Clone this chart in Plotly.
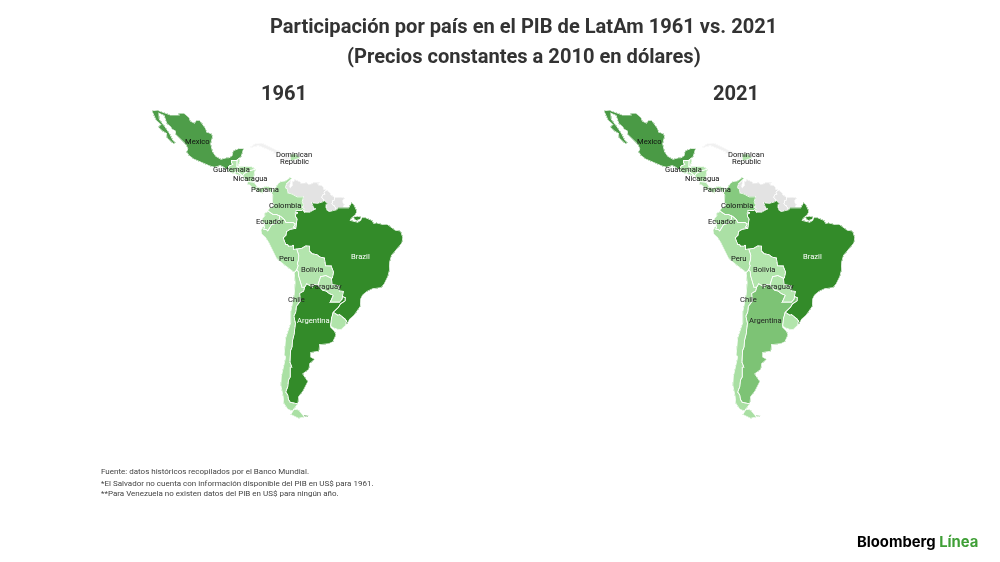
import plotly.graph_objects as go

MEXICO = [[(-117.1,32.5),(-114.7,32.7),(-114.8,32.5),(-111.0,31.3),(-108.2,31.3),(-108.2,31.8),(-106.5,31.8),(-104.9,30.6),(-104.5,29.6),(-103.1,29.0),(-102.5,29.8),(-101.4,29.8),(-100.3,28.3),(-99.5,27.5),(-99.1,26.4),(-97.5,25.9),(-97.2,25.0),(-97.8,22.9),(-97.2,20.6),(-96.1,19.1),(-95.0,18.6),(-94.4,18.15),(-92.7,18.6),(-91.8,18.6),(-90.8,19.3),(-90.4,20.8),(-88.5,21.5),(-87.0,21.5),(-87.5,20.2),(-87.8,19.0),(-88.3,18.5),(-89.15,17.95),(-89.15,17.8),(-91.0,17.8),(-91.0,17.25),(-90.6,16.5),(-91.7,16.07),(-92.2,15.25),(-92.2,14.55),(-93.4,15.6),(-94.7,16.2),(-96.5,15.65),(-98.2,16.1),(-99.7,16.7),(-101.6,17.6),(-103.5,18.3),(-104.9,19.3),(-105.7,20.4),(-105.3,21.4),(-106.0,22.8),(-107.9,24.6),(-109.2,25.6),(-109.4,26.7),(-110.5,27.3),(-110.9,27.9),(-112.2,28.9),(-113.1,31.2),(-114.8,31.8),(-114.7,30.2),(-112.8,28.0),(-111.3,26.0),(-110.3,24.2),(-109.4,23.2),(-110.0,22.9),(-112.1,24.6),(-112.3,26.0),(-113.6,26.7),(-115.0,27.8),(-114.2,28.6),(-115.7,29.8),(-116.7,31.6)]]
BELIZE = [[(-89.15,17.95),(-88.3,18.5),(-88.2,17.5),(-88.9,15.9),(-89.2,15.9)]]
GUATEMALA = [[(-92.2,14.55),(-92.2,15.25),(-91.7,16.07),(-90.6,16.5),(-91.0,17.25),(-91.0,17.8),(-89.15,17.8),(-89.2,15.9),(-88.6,15.7),(-89.2,15.1),(-89.35,14.4),(-90.1,13.75),(-91.2,13.9)]]
HONDURAS = [[(-88.6,15.7),(-87.5,15.8),(-86.0,15.95),(-84.4,15.85),(-83.15,15.0),(-84.7,14.7),(-85.1,14.55),(-86.0,14.0),(-86.7,13.75),(-87.3,12.98),(-87.8,13.4),(-88.5,13.85),(-89.35,14.4),(-89.2,15.1)]]
EL_SALVADOR = [[(-90.1,13.75),(-89.35,14.4),(-88.5,13.85),(-87.8,13.4),(-87.9,13.15),(-88.8,13.2)]]
NICARAGUA = [[(-87.3,12.98),(-86.7,13.75),(-86.0,14.0),(-85.1,14.55),(-84.7,14.7),(-83.15,15.0),(-83.5,13.6),(-83.8,11.0),(-83.65,10.93),(-84.9,11.0),(-85.7,11.08),(-86.5,11.8)]]
COSTA_RICA = [[(-85.7,11.08),(-84.9,11.0),(-83.65,10.93),(-82.55,9.55),(-82.9,8.05),(-83.7,8.6),(-85.0,10.0),(-85.8,10.1)]]
PANAMA = [[(-82.9,8.05),(-82.55,9.55),(-81.4,8.85),(-79.6,9.6),(-78.0,9.2),(-77.35,8.67),(-77.9,7.2),(-78.4,8.0),(-79.6,8.9),(-80.4,8.25),(-80.9,7.2),(-81.7,7.9)]]
COLOMBIA = [[(-77.35,8.67),(-76.9,8.6),(-75.6,10.5),(-74.9,11.05),(-73.3,11.3),(-71.75,12.45),(-71.15,12.1),(-71.35,11.85),(-72.2,11.1),(-72.9,10.45),(-73.3,9.15),(-72.65,8.6),(-72.45,7.4),(-71.0,7.0),(-69.4,6.1),(-67.35,6.1),(-67.8,4.5),(-67.3,3.3),(-67.8,2.8),(-67.2,2.2),(-66.87,1.25),(-67.06,1.13),(-67.26,1.72),(-67.54,2.04),(-67.87,1.69),(-69.82,1.71),(-69.85,1.1),(-69.2,0.95),(-69.6,0.6),(-70.05,0.55),(-70.0,-0.2),(-69.45,-1.15),(-69.9,-4.2),(-70.65,-3.8),(-70.05,-2.75),(-70.8,-2.25),(-72.0,-2.4),(-73.1,-2.3),(-73.65,-1.25),(-74.85,-0.25),(-75.3,-0.1),(-76.3,0.4),(-77.4,0.4),(-78.85,1.4),(-79.0,1.7),(-78.4,2.6),(-77.5,2.6),(-77.1,3.9),(-77.5,4.1),(-77.4,6.7),(-77.9,7.2)]]
VENEZUELA = [[(-71.35,11.85),(-71.95,11.42),(-71.6,10.97),(-71.6,10.2),(-72.1,9.85),(-71.7,9.07),(-71.0,9.86),(-71.05,10.95),(-70.15,11.4),(-70.3,12.0),(-69.6,11.46),(-68.3,10.9),(-68.2,10.55),(-66.2,10.65),(-65.65,10.2),(-64.3,10.4),(-64.3,10.65),(-61.9,10.7),(-62.7,10.4),(-62.4,9.95),(-61.6,9.87),(-60.85,9.4),(-60.7,8.6),(-59.8,8.37),(-60.55,7.8),(-60.64,7.4),(-60.3,7.05),(-61.1,6.7),(-61.4,5.96),(-60.73,5.2),(-60.6,4.92),(-61.0,4.5),(-62.8,4.0),(-64.6,4.15),(-64.0,2.5),(-63.4,2.2),(-64.4,1.5),(-65.35,1.1),(-66.87,1.25),(-67.2,2.2),(-67.8,2.8),(-67.3,3.3),(-67.8,4.5),(-67.35,6.1),(-69.4,6.1),(-71.0,7.0),(-72.45,7.4),(-72.65,8.6),(-73.3,9.15),(-72.9,10.45),(-72.2,11.1)]]
GUYANA = [[(-59.8,8.37),(-58.5,7.35),(-58.45,6.85),(-57.15,5.97),(-57.3,5.07),(-57.9,4.8),(-57.85,4.2),(-58.05,4.0),(-57.6,3.33),(-57.3,3.3),(-56.5,1.9),(-56.75,1.86),(-58.9,1.3),(-59.65,1.85),(-59.8,2.3),(-60.0,2.75),(-59.95,3.6),(-59.55,3.96),(-60.1,4.57),(-60.73,5.2),(-61.4,5.96),(-61.1,6.7),(-60.3,7.05),(-60.64,7.4),(-60.55,7.8)]]
SURINAME = [[(-57.15,5.97),(-55.9,5.9),(-55.0,6.0),(-53.95,5.75),(-54.5,4.9),(-54.4,4.2),(-54.0,3.6),(-54.4,2.45),(-55.1,2.5),(-56.0,2.5),(-56.5,1.9),(-57.3,3.3),(-57.6,3.33),(-58.05,4.0),(-57.85,4.2),(-57.9,4.8),(-57.3,5.07)]]
BRAZIL = [[(-60.73,5.2),(-60.1,4.57),(-59.55,3.96),(-59.95,3.6),(-60.0,2.75),(-59.8,2.3),(-59.65,1.85),(-58.9,1.3),(-56.75,1.86),(-56.5,1.9),(-56.0,2.5),(-55.1,2.5),(-54.4,2.45),(-52.55,2.5),(-51.65,4.15),(-51.0,3.9),(-50.0,1.8),(-50.0,0.9),(-50.5,0.1),(-51.7,-0.9),(-52.0,-1.6),(-50.9,-1.75),(-49.6,-2.2),(-48.6,-1.6),(-48.2,-0.7),(-47.0,-0.7),(-44.9,-1.6),(-44.3,-2.6),(-43.4,-2.4),(-41.5,-2.9),(-39.9,-2.85),(-38.5,-3.7),(-37.2,-4.8),(-35.5,-5.1),(-34.8,-7.2),(-35.1,-9.0),(-37.0,-11.1),(-38.5,-13.0),(-39.1,-15.0),(-39.2,-17.7),(-39.7,-19.6),(-40.9,-21.9),(-41.9,-23.0),(-44.6,-23.3),(-46.5,-24.1),(-48.0,-25.3),(-48.6,-26.4),(-48.7,-28.5),(-50.7,-31.0),(-52.2,-32.2),(-53.37,-33.77),(-53.5,-33.15),(-53.2,-32.7),(-53.8,-32.05),(-54.6,-31.45),(-55.6,-30.85),(-56.0,-31.08),(-57.6,-30.2),(-56.0,-28.9),(-55.2,-27.8),(-53.7,-26.9),(-53.65,-26.0),(-54.6,-25.6),(-54.3,-24.1),(-55.4,-24.0),(-55.75,-22.4),(-56.7,-22.2),(-58.0,-22.1),(-58.15,-20.15),(-57.85,-19.95),(-57.5,-18.2),(-58.3,-16.3),(-60.15,-16.25),(-60.5,-13.8),(-61.85,-13.5),(-63.0,-12.7),(-64.5,-12.4),(-65.3,-11.6),(-65.4,-10.0),(-66.6,-9.9),(-68.0,-10.7),(-69.55,-10.95),(-70.6,-11.0),(-70.6,-9.5),(-71.2,-10.0),(-72.2,-10.0),(-72.55,-9.5),(-73.2,-9.4),(-74.0,-7.3),(-73.1,-6.4),(-72.9,-5.2),(-71.75,-4.5),(-70.9,-4.4),(-69.9,-4.2),(-69.45,-1.15),(-70.0,-0.2),(-70.05,0.55),(-69.6,0.6),(-69.2,0.95),(-69.85,1.1),(-69.82,1.71),(-67.87,1.69),(-67.54,2.04),(-67.26,1.72),(-67.06,1.13),(-66.87,1.25),(-65.35,1.1),(-64.4,1.5),(-63.4,2.2),(-64.0,2.5),(-64.6,4.15),(-62.8,4.0),(-61.0,4.5),(-60.6,4.92)],
          [(-50.9,-0.4),(-49.6,-0.2),(-48.5,-0.5),(-48.7,-1.2),(-50.0,-1.6),(-50.7,-1.2)]]
ECUADOR = [[(-80.3,-3.4),(-80.15,-3.85),(-80.4,-4.45),(-79.5,-4.6),(-79.05,-5.0),(-78.65,-4.55),(-78.4,-3.8),(-77.85,-3.0),(-76.6,-2.6),(-75.55,-1.55),(-75.2,-0.95),(-75.3,-0.1),(-76.3,0.4),(-77.4,0.4),(-78.85,1.4),(-80.1,0.8),(-80.0,0.0),(-80.9,-1.0),(-80.9,-2.2),(-79.9,-2.5)]]
PERU = [[(-80.3,-3.4),(-81.3,-4.7),(-81.1,-6.0),(-79.8,-7.2),(-78.7,-8.9),(-77.2,-12.0),(-76.2,-13.9),(-74.0,-15.7),(-72.0,-17.0),(-70.4,-18.35),(-69.6,-17.6),(-69.1,-16.2),(-69.4,-15.6),(-69.15,-15.1),(-68.95,-14.2),(-68.9,-12.9),(-69.55,-10.95),(-70.6,-11.0),(-70.6,-9.5),(-71.2,-10.0),(-72.2,-10.0),(-72.55,-9.5),(-73.2,-9.4),(-74.0,-7.3),(-73.1,-6.4),(-72.9,-5.2),(-71.75,-4.5),(-70.9,-4.4),(-69.9,-4.2),(-70.65,-3.8),(-70.05,-2.75),(-70.8,-2.25),(-72.0,-2.4),(-73.1,-2.3),(-73.65,-1.25),(-74.85,-0.25),(-75.3,-0.1),(-75.2,-0.95),(-75.55,-1.55),(-76.6,-2.6),(-77.85,-3.0),(-78.4,-3.8),(-78.65,-4.55),(-79.05,-5.0),(-79.5,-4.6),(-80.4,-4.45),(-80.15,-3.85)]]
BOLIVIA = [[(-69.55,-10.95),(-68.9,-12.9),(-68.95,-14.2),(-69.15,-15.1),(-69.4,-15.6),(-69.1,-16.2),(-69.6,-17.6),(-69.1,-18.0),(-68.95,-19.4),(-68.2,-21.5),(-67.85,-22.85),(-67.0,-22.9),(-66.3,-21.85),(-64.4,-22.8),(-63.95,-22.0),(-62.65,-22.25),(-62.3,-21.05),(-61.75,-19.65),(-60.0,-19.3),(-58.15,-20.15),(-57.85,-19.95),(-57.5,-18.2),(-58.3,-16.3),(-60.15,-16.25),(-60.5,-13.8),(-61.85,-13.5),(-63.0,-12.7),(-64.5,-12.4),(-65.3,-11.6),(-65.4,-10.0),(-66.6,-9.9),(-68.0,-10.7)]]
PARAGUAY = [[(-58.15,-20.15),(-60.0,-19.3),(-61.75,-19.65),(-62.3,-21.05),(-62.65,-22.25),(-61.0,-23.8),(-60.0,-24.0),(-58.8,-24.8),(-57.6,-25.3),(-58.6,-27.3),(-56.5,-27.4),(-55.6,-27.3),(-54.7,-26.4),(-54.6,-25.6),(-54.3,-24.1),(-55.4,-24.0),(-55.75,-22.4),(-56.7,-22.2),(-58.0,-22.1)]]
ARGENTINA = [[(-66.3,-21.85),(-64.4,-22.8),(-63.95,-22.0),(-62.65,-22.25),(-61.0,-23.8),(-60.0,-24.0),(-58.8,-24.8),(-57.6,-25.3),(-58.6,-27.3),(-56.5,-27.4),(-55.6,-27.3),(-54.7,-26.4),(-54.6,-25.6),(-53.65,-26.0),(-53.7,-26.9),(-55.2,-27.8),(-56.0,-28.9),(-57.6,-30.2),(-58.2,-32.0),(-58.4,-33.9),(-58.5,-34.3),(-57.2,-35.4),(-56.7,-36.4),(-57.7,-38.2),(-59.1,-38.7),(-62.1,-38.9),(-62.3,-40.6),(-65.0,-40.9),(-65.0,-42.0),(-63.7,-42.6),(-65.3,-43.6),(-65.6,-45.0),(-67.6,-46.0),(-65.9,-47.7),(-67.6,-49.9),(-69.0,-51.0),(-69.2,-52.4),(-71.7,-52.1),(-72.3,-51.5),(-72.5,-50.6),(-73.2,-50.0),(-72.5,-48.8),(-72.3,-47.4),(-71.7,-46.7),(-71.7,-44.5),(-71.2,-44.4),(-71.8,-43.3),(-71.6,-40.5),(-71.1,-39.5),(-71.0,-38.0),(-70.4,-36.1),(-70.0,-33.3),(-70.5,-31.3),(-69.9,-30.2),(-69.7,-28.5),(-68.4,-27.0),(-68.6,-24.7),(-67.3,-24.0),(-67.0,-22.9)],
             [(-67.5,-54.6),(-66.0,-54.7),(-65.4,-54.7),(-66.5,-54.95),(-67.0,-54.95)]]
CHILE = [[(-69.6,-17.6),(-69.1,-18.0),(-68.95,-19.4),(-68.2,-21.5),(-67.85,-22.85),(-67.0,-22.9),(-67.3,-24.0),(-68.6,-24.7),(-68.4,-27.0),(-69.7,-28.5),(-69.9,-30.2),(-70.5,-31.3),(-70.0,-33.3),(-70.4,-36.1),(-71.0,-38.0),(-71.1,-39.5),(-71.6,-40.5),(-71.8,-43.3),(-71.2,-44.4),(-71.7,-44.5),(-71.7,-46.7),(-72.3,-47.4),(-72.5,-48.8),(-73.2,-50.0),(-72.5,-50.6),(-72.3,-51.5),(-71.7,-52.1),(-69.2,-52.4),(-70.0,-52.9),(-71.0,-53.8),(-72.5,-53.5),(-73.8,-52.3),(-74.0,-51.0),(-74.8,-48.5),(-74.6,-46.5),(-74.0,-45.0),(-73.2,-42.0),(-73.7,-41.5),(-73.5,-39.5),(-73.2,-37.2),(-72.0,-34.5),(-71.5,-33.0),(-71.5,-30.0),(-70.9,-27.6),(-70.4,-25.0),(-70.1,-21.5),(-70.4,-18.35)],
         [(-70.5,-53.5),(-69.0,-53.6),(-67.5,-54.6),(-67.0,-54.95),(-69.0,-55.2),(-71.5,-54.5)]]
URUGUAY = [[(-57.6,-30.2),(-56.0,-31.08),(-55.6,-30.85),(-54.6,-31.45),(-53.8,-32.05),(-53.2,-32.7),(-53.5,-33.15),(-53.37,-33.77),(-54.9,-34.95),(-56.2,-34.9),(-57.8,-34.45),(-58.4,-33.9),(-58.2,-32.0)]]
CUBA = [[(-84.9,21.85),(-83.2,22.95),(-81.0,23.1),(-79.3,22.4),(-77.1,21.6),(-75.6,20.75),(-74.2,20.25),(-77.7,19.85),(-77.1,20.4),(-78.5,21.0),(-80.5,21.8),(-82.2,22.4),(-84.0,21.9)]]
HAITI = [[(-71.7,19.7),(-71.7,18.2),(-71.4,17.9),(-74.4,18.4),(-72.8,19.0),(-73.3,19.9)]]
DOMINICAN_REPUBLIC = [[(-71.7,19.7),(-70.0,19.8),(-68.4,18.6),(-71.4,17.6),(-71.7,18.2)]]

COUNTRIES = ["Mexico", "Belize", "Guatemala", "Honduras", "El Salvador", "Nicaragua", "Costa Rica", "Panama",
             "Dominican Republic", "Colombia", "Ecuador", "Peru", "Bolivia", "Paraguay", "Chile", "Argentina",
             "Uruguay", "Brazil"]
SHARE_1961 = [22, 0.2, 1.2, 0.5, 0.6, 0.6, 0.5, 0.4, 0.8, 4.5, 1.2, 3.5, 0.7, 0.4, 5, 30, 1.8, 31]
SHARE_2021 = [23, 0.1, 1.5, 0.5, 0.5, 0.3, 1.2, 1.2, 1.8, 8.5, 2.0, 4.5, 0.9, 0.8, 5.5, 10, 1.0, 37]
NO_DATA = ["Venezuela", "Guyana", "Suriname", "Haiti", "Cuba"]
NO_DATA_TONE = [0, 0, 0, 1, 1]
GEOM = {"Mexico": MEXICO, "Belize": BELIZE, "Guatemala": GUATEMALA, "Honduras": HONDURAS, "El Salvador": EL_SALVADOR,
        "Nicaragua": NICARAGUA, "Costa Rica": COSTA_RICA, "Panama": PANAMA, "Dominican Republic": DOMINICAN_REPUBLIC,
        "Colombia": COLOMBIA, "Ecuador": ECUADOR, "Peru": PERU, "Bolivia": BOLIVIA, "Paraguay": PARAGUAY, "Chile": CHILE,
        "Argentina": ARGENTINA, "Uruguay": URUGUAY, "Brazil": BRAZIL, "Venezuela": VENEZUELA, "Guyana": GUYANA,
        "Suriname": SURINAME, "Haiti": HAITI, "Cuba": CUBA}

TITLE_LINES = ["Participación por país en el PIB de LatAm 1961 vs. 2021", "(Precios constantes a 2010 en dólares)"]
NOTES = ["Fuente: datos históricos recopilados por el Banco Mundial.",
         "*El Salvador no cuenta con información disponible del PIB en US$ para 1961.",
         "**Para Venezuela no existen datos del PIB en US$ para ningún año."]

W, H = 1000, 562
ZMAX = 35
SCALE = [[0, "#b4e6ae"], [5.5/ZMAX, "#a9dfa3"], [8.5/ZMAX, "#86ca7f"], [10/ZMAX, "#7dc375"],
         [23/ZMAX, "#4a9a45"], [30/ZMAX, "#338b29"], [1, "#338b29"]]


def feature(name):
    rings = GEOM[name]
    return {"type": "Feature", "id": name,
            "geometry": {"type": "MultiPolygon",
                         "coordinates": [[[list(p) for p in r] + [list(r[0])]] for r in rings]}}


geojson = {"type": "FeatureCollection", "features": [feature(n) for n in GEOM]}
fig = go.Figure()
for sp, share in (("map", SHARE_1961), ("map2", SHARE_2021)):
    fig.add_trace(go.Choroplethmap(geojson=geojson, locations=NO_DATA, z=NO_DATA_TONE, subplot=sp, zmin=0, zmax=1,
                                   colorscale=[[0, "#e3e3e3"], [1, "#f1f1f1"]], showscale=False,
                                   marker_line_color="#ffffff", marker_line_width=0.5))
    fig.add_trace(go.Choroplethmap(geojson=geojson, locations=COUNTRIES, z=share, subplot=sp, zmin=0, zmax=ZMAX,
                                   colorscale=SCALE, showscale=False,
                                   marker_line_color="#ffffff", marker_line_width=0.7))

ZOOM, C_LON, C_LAT = 1.10, -76.7, -16.0
base = dict(style="white-bg", zoom=ZOOM, center=dict(lon=C_LON, lat=C_LAT))
fig.update_layout(
    width=W, height=H, margin=dict(l=0, r=0, t=0, b=0), paper_bgcolor="white", showlegend=False,
    map=dict(domain=dict(x=[100/W, 450/W], y=[1-430/H, 1-100/H]), **base),
    map2=dict(domain=dict(x=[552/W, 902/W], y=[1-430/H, 1-100/H]), **base),
)


def txt(x, y, s, size, color="#333333", family="Roboto", anchor="center"):
    fig.add_annotation(x=x/W, y=1-y/H, xref="paper", yref="paper", text=s, showarrow=False, xanchor=anchor,
                       yanchor="middle", font=dict(size=size, color=color, family=family), align="center",
                       borderpad=0, borderwidth=0)


txt(523, 26, f"<b>{TITLE_LINES[0]}</b>", 20.1)
txt(524, 56, f"<b>{TITLE_LINES[1]}</b>", 20.1)
txt(284, 93, "<b>1961</b>", 20.1)
txt(736, 93, "<b>2021</b>", 20.1)
for s, y in zip(NOTES, [471, 483, 494]):
    txt(101, y, s, 8, "#444444", anchor="left")

LABELS = ["Mexico", "Dominican", "Republic", "Guatemala", "Nicaragua", "Panama", "Colombia", "Ecuador", "Peru",
          "Brazil", "Bolivia", "Paraguay", "Chile", "Argentina"]
LABEL_X = [197, 294, 294, 231, 250, 265, 285, 270, 287, 360, 312, 326, 296, 313]
LABEL_Y = [142, 154.5, 161.5, 169, 178, 189, 205, 221, 258, 256, 269, 286, 300, 320]
LABEL_C1 = ["#111111"] * 9 + ["#ffffff"] + ["#222222"] * 3 + ["#ffffff"]
LABEL_C2 = ["#111111"] * 9 + ["#ffffff"] + ["#222222"] * 4
for s, x, y, c1, c2 in zip(LABELS, LABEL_X, LABEL_Y, LABEL_C1, LABEL_C2):
    txt(x, y, s, 7.6, c1)
    txt(x + 452, y, s, 7.6, c2)

fig.add_annotation(x=855/W, y=1-542/H, xref="paper", yref="paper", showarrow=False, xanchor="left", yanchor="middle",
                   text="<b>Bloomberg <span style='color:#3f9f36'>Línea</span></b>",
                   font=dict(size=14.8, color="#000000", family="Inter", weight=800))

fig.write_html("out.html", post_script="document.body.style.margin='0';", config={"displayModeBar": False})
